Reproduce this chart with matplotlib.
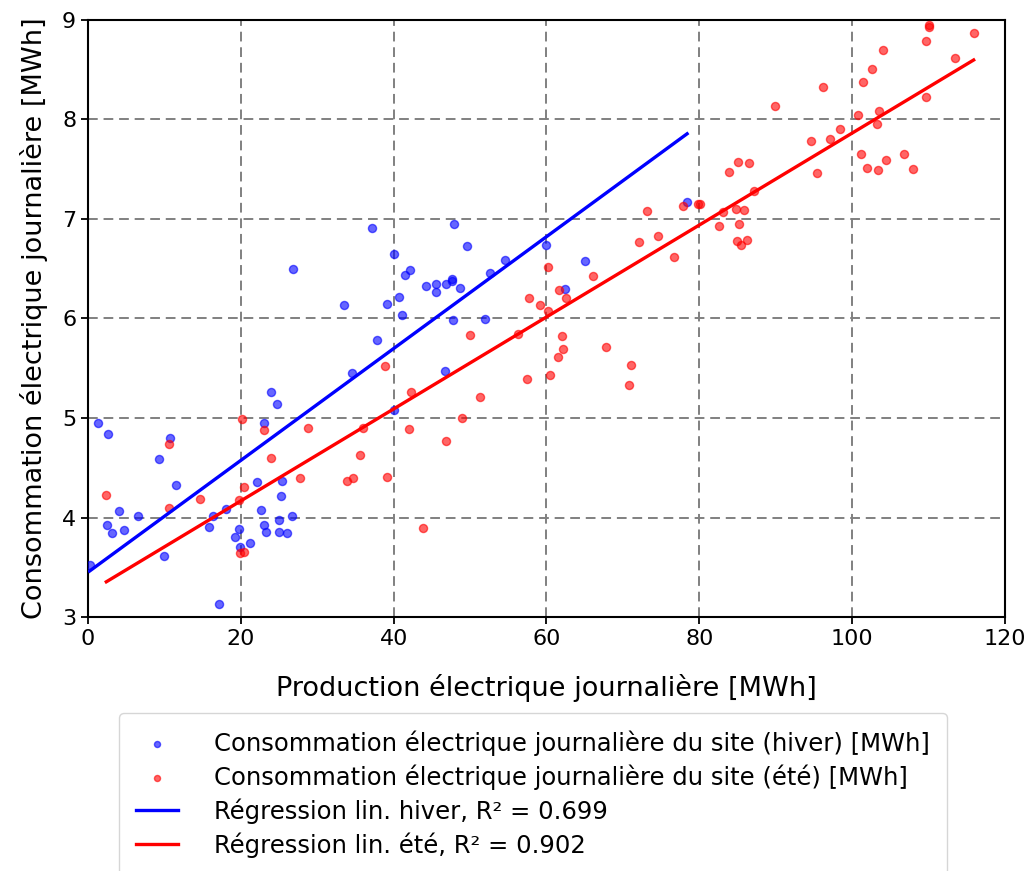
import numpy as np
import matplotlib
matplotlib.use("Agg")
import matplotlib.pyplot as plt

# Hiver : production (x) / consommation (y) journalières [MWh]
prod_hiver = [0.2, 1.3, 2.6, 2.5, 3.1, 4.1, 4.7, 6.5, 9.3, 9.9, 10.7, 11.5,
              15.9, 16.4, 17.2, 18.0, 19.2, 19.8, 19.9, 21.2, 22.1, 22.7,
              23.0, 23.3, 23.1, 24.0, 24.8, 25.4, 25.3, 25.0, 25.0, 26.0,
              26.7, 26.8, 33.5, 34.5, 37.2, 37.8, 39.1, 40.0, 40.1, 40.7,
              41.1, 41.5, 42.2, 44.2, 45.6, 45.6, 46.7, 46.9, 47.6, 47.6,
              47.8, 47.9, 48.7, 49.6, 51.9, 52.6, 54.6, 60.0, 62.4, 65.1,
              78.4]
conso_hiver = [3.52, 4.95, 4.84, 3.92, 3.84, 4.07, 3.87, 4.02, 4.59, 3.61,
               4.80, 4.33, 3.90, 4.02, 3.13, 4.09, 3.80, 3.88, 3.70, 3.74,
               4.36, 4.08, 3.92, 3.85, 4.95, 5.26, 5.14, 4.37, 4.22, 3.97,
               3.85, 3.84, 4.02, 6.50, 6.14, 5.45, 6.91, 5.78, 6.15, 5.08,
               6.65, 6.22, 6.04, 6.44, 6.49, 6.33, 6.35, 6.27, 5.47, 6.35,
               6.40, 6.38, 5.98, 6.95, 6.31, 6.73, 5.99, 6.46, 6.59, 6.74,
               6.30, 6.58, 7.17]

# Été
prod_ete = [2.4, 10.6, 10.6, 14.6, 19.7, 19.9, 20.1, 20.4, 20.4, 23.1,
            24.0, 27.8, 28.8, 33.9, 34.7, 35.6, 36.0, 38.9, 39.1, 42.0,
            42.3, 43.8, 46.8, 48.9, 50.0, 51.3, 56.3, 57.5, 57.7, 59.1,
            60.2, 60.2, 60.4, 61.5, 61.7, 62.0, 62.1, 62.6, 66.1, 67.8,
            70.8, 71.0, 72.1, 73.1, 74.6, 76.7, 77.8, 79.8, 80.1, 82.6,
            83.1, 83.9, 84.8, 84.9, 85.1, 85.2, 85.4, 85.9, 86.3, 86.5,
            87.1, 89.9, 94.6, 95.4, 96.2, 97.1, 98.4, 100.8, 101.1, 101.4,
            102.0, 102.6, 103.2, 103.4, 103.5, 104.0, 104.4, 106.8, 108.0,
            109.6, 109.6, 110.0, 110.1, 113.5, 115.9]
conso_ete = [4.23, 4.74, 4.10, 4.19, 4.18, 3.64, 4.99, 4.31, 3.65, 4.88,
             4.60, 4.40, 4.90, 4.37, 4.40, 4.63, 4.90, 5.52, 4.41, 4.89,
             5.26, 3.89, 4.77, 5.00, 5.83, 5.21, 5.84, 5.39, 6.21, 6.14,
             6.08, 6.52, 5.43, 5.61, 6.29, 5.82, 5.69, 6.21, 6.43, 5.71,
             5.33, 5.53, 6.77, 7.08, 6.83, 6.62, 7.13, 7.15, 7.15, 6.93,
             7.07, 7.47, 7.10, 6.78, 7.57, 6.95, 6.74, 7.09, 6.79, 7.56,
             7.28, 8.14, 7.78, 7.46, 8.33, 7.80, 7.90, 8.04, 7.65, 8.38,
             7.51, 8.51, 7.95, 7.49, 8.09, 8.70, 7.59, 7.65, 7.50,
             8.79, 8.23, 8.93, 8.95, 8.62, 8.87]

# Régressions linéaires (pente, ordonnée à l'origine)
reg_hiver = (0.0562, 3.45)
reg_ete = (0.0462, 3.243)
r2_hiver = 0.699
r2_ete = 0.902

fig = plt.figure(figsize=(10.35, 8.71), dpi=100)
ax = fig.add_axes([0.085, 0.2916, 0.886, 0.6855])

ax.scatter(prod_hiver, conso_hiver, s=34, color='blue', alpha=0.6,
           label="Consommation électrique journalière du site (hiver) [MWh]", zorder=3)
ax.scatter(prod_ete, conso_ete, s=34, color='red', alpha=0.6,
           label="Consommation électrique journalière du site (été) [MWh]", zorder=3)

xh = np.array([min(prod_hiver), max(prod_hiver)])
xe = np.array([min(prod_ete), max(prod_ete)])
ax.plot(xh, reg_hiver[0] * xh + reg_hiver[1], color='blue', lw=2.4,
        label=f"Régression lin. hiver, R² = {r2_hiver}", zorder=4)
ax.plot(xe, reg_ete[0] * xe + reg_ete[1], color='red', lw=2.4,
        label=f"Régression lin. été, R² = {r2_ete}", zorder=4)

ax.set_xlim(0, 120)
ax.set_ylim(3, 9)
ax.grid(True, color='grey', linestyle=(0, (5, 3)), linewidth=1.4)
ax.set_axisbelow(True)
ax.tick_params(labelsize=16, width=1.3, length=5)
for s in ax.spines.values():
    s.set_linewidth(1.5)
ax.set_xlabel("Production électrique journalière [MWh]", fontsize=19.5, labelpad=18)
ax.set_ylabel("Consommation électrique journalière [MWh]", fontsize=19.5, labelpad=10)

fig.legend(loc='upper center', bbox_to_anchor=(0.515, 0.195), fontsize=17.5,
           frameon=True, markerscale=0.75, labelspacing=0.35, handlelength=1.7,
           handletextpad=1.5, borderpad=0.7)

fig.savefig("out.png", dpi=100)
